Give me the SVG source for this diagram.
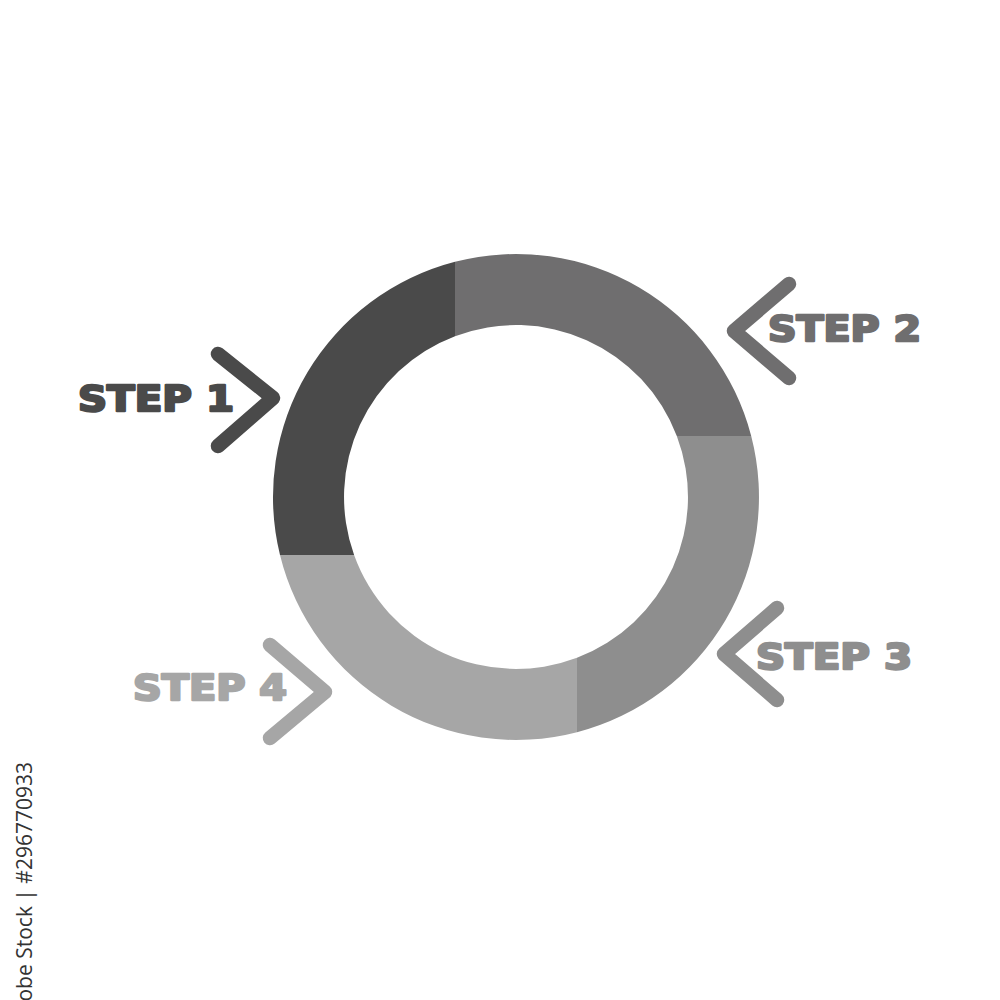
<svg xmlns="http://www.w3.org/2000/svg" width="1000" height="1000" viewBox="0 0 1000 1000">
<style>
.lbl{font-family:"DejaVu Sans","Liberation Sans",sans-serif;font-weight:bold;font-size:35px;stroke-width:2.4;stroke-linejoin:round}
.chev{fill:none;stroke-width:14.5;stroke-linecap:round;stroke-linejoin:round}
.c1{fill:#4a4a4a;stroke:#4a4a4a}
.c2{fill:#6f6e6f;stroke:#6f6e6f}
.c3{fill:#8e8e8e;stroke:#8e8e8e}
.c4{fill:#a6a6a6;stroke:#a6a6a6}
.seg{stroke:none}
</style>
<rect width="1000" height="1000" fill="#ffffff"/>
<g id="ring">
<path id="seg1" class="seg c1" d="M455 261.8 A243 243 0 0 0 280 555 L354.1 555 A172 172 0 0 1 455 336.2 Z"/>
<path id="seg2" class="seg c2" d="M455 261.8 A243 243 0 0 1 751.2 436 L676.8 436 A172 172 0 0 0 455 336.2 Z"/>
<path id="seg3" class="seg c3" d="M751.2 436 A243 243 0 0 1 577 732.2 L577 657.8 A172 172 0 0 0 676.8 436 Z"/>
<path id="seg4" class="seg c4" d="M577 732.2 A243 243 0 0 1 280 555 L354.1 555 A172 172 0 0 0 577 657.8 Z"/>
</g>
<g id="step1">
<polyline class="chev c1" style="fill:none" points="218,354 273,398 218,446"/>
<text class="lbl c1" x="78" y="411" textLength="156" lengthAdjust="spacingAndGlyphs">STEP 1</text>
</g>
<g id="step2">
<polyline class="chev c2" style="fill:none" points="789,284 734,331 789,378"/>
<text class="lbl c2" x="768" y="341" textLength="153" lengthAdjust="spacingAndGlyphs">STEP 2</text>
</g>
<g id="step3">
<polyline class="chev c3" style="fill:none" points="777,608 724,654 777,700"/>
<text class="lbl c3" x="756" y="669" textLength="156" lengthAdjust="spacingAndGlyphs">STEP 3</text>
</g>
<g id="step4">
<polyline class="chev c4" style="fill:none" points="270,645 325,692 270,738"/>
<text class="lbl c4" x="133" y="700" textLength="154" lengthAdjust="spacingAndGlyphs">STEP 4</text>
</g>
<text transform="translate(32,762) rotate(-90)" text-anchor="end" font-family="Open Sans, Liberation Sans, sans-serif" font-size="21" fill="#333333">Adobe Stock | #296770933</text>
</svg>
